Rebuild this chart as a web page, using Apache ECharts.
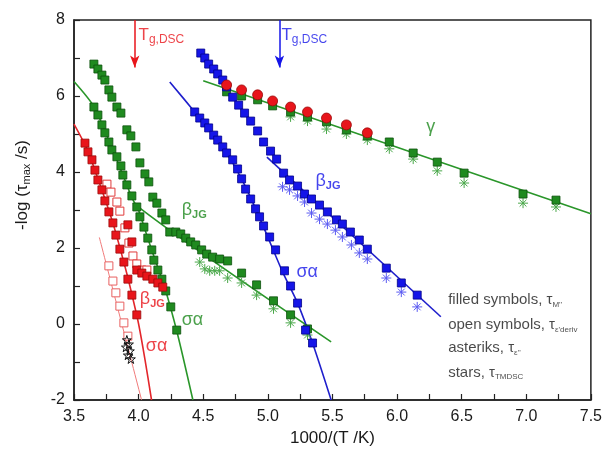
<!DOCTYPE html>
<html lang="en">
<head>
  <meta charset="UTF-8" />
  <title>relaxation map</title>
  <script src="https://cdn.jsdelivr.net/npm/echarts@6/dist/echarts.min.js"></script>
  <style>
    html, body { margin: 0; padding: 0; background: #fff; }
  </style>
</head>
<body>
  <div id="main" style="width:605px;height:455px;"></div>
  <script type="text/javascript">
    // --- data: [1000/T, -log(tau)] ---
    // red: filled squares (sigma-alpha and beta_JG), open squares, stars
    var redSigmaSq = [[3.585, 4.76], [3.608, 4.53], [3.639, 4.32], [3.662, 4.05], [3.685, 3.79], [3.716, 3.53],
      [3.739, 3.24], [3.770, 2.95], [3.801, 2.66], [3.824, 2.34], [3.855, 1.97], [3.886, 1.63], [3.917, 1.18],
      [3.948, 0.76], [3.986, 0.24]]
    var redBetaSq = [[3.917, 2.61], [3.948, 2.16], [3.986, 1.42], [4.025, 1.34], [4.064, 1.26], [4.110, 1.18],
      [4.149, 1.08], [4.187, 0.97]]
    var redOpenSq = [[3.755, 3.68], [3.786, 3.47], [3.832, 3.21], [3.855, 2.97], [3.894, 2.53], [3.925, 2.13],
      [3.956, 1.79], [3.986, 1.58], [4.025, 1.42], [4.064, 1.42]]
    var redOpenSigma = [[3.770, 1.53], [3.801, 1.13], [3.824, 0.82], [3.855, 0.47], [3.886, 0.03], [3.917, -0.32]]
    var stars = [[3.909, -0.42], [3.925, -0.53], [3.902, -0.61], [3.932, -0.71], [3.917, -0.82], [3.940, -0.92]]
    var redGammaCircles = [[4.681, 6.29], [4.797, 6.16], [4.921, 6.03], [5.037, 5.87], [5.176, 5.71], [5.307, 5.58],
      [5.454, 5.42], [5.608, 5.24], [5.770, 5.03]]

    // green
    var greenUpperSq = [[3.654, 6.84], [3.685, 6.71], [3.716, 6.55], [3.739, 6.42], [3.770, 6.16], [3.793, 5.97],
      [3.832, 5.71], [3.863, 5.55], [3.909, 5.11], [3.940, 4.95], [3.979, 4.66], [4.010, 4.24], [4.049, 3.95],
      [4.079, 3.74], [4.110, 3.34], [4.141, 3.18], [4.180, 2.92], [4.210, 2.74], [4.241, 2.42], [4.288, 2.42],
      [4.326, 2.37], [4.365, 2.26], [4.403, 2.16], [4.442, 2.08], [4.488, 1.95], [4.527, 1.84], [4.573, 1.76],
      [4.627, 1.71], [4.689, 1.66], [4.797, 1.34], [4.913, 1.03], [5.044, 0.61], [5.176, 0.24], [5.307, -0.13]]
    var greenLowerSq = [[3.654, 5.71], [3.685, 5.50], [3.716, 5.24], [3.739, 5.03], [3.770, 4.79], [3.793, 4.58],
      [3.832, 4.40], [3.863, 4.16], [3.878, 3.92], [3.909, 3.66], [3.948, 3.37], [3.986, 3.08], [4.010, 2.82],
      [4.041, 2.55], [4.071, 2.26], [4.102, 1.95], [4.118, 1.68], [4.149, 1.42], [4.180, 1.18], [4.210, 0.87],
      [4.249, 0.45], [4.295, -0.16]]
    var greenGammaSq = [[4.681, 6.11], [4.797, 6.00], [4.921, 5.90], [5.037, 5.74], [5.176, 5.58], [5.307, 5.45],
      [5.454, 5.32], [5.608, 5.11], [5.770, 4.95], [5.940, 4.79], [6.125, 4.50], [6.311, 4.26], [6.519, 3.97],
      [6.975, 3.42], [7.230, 3.26]]
    var greenGammaAst = [[5.176, 5.45], [5.307, 5.34], [5.454, 5.13], [5.608, 5.00], [5.770, 4.84], [5.940, 4.61],
      [6.125, 4.34], [6.311, 4.03], [6.519, 3.71], [6.975, 3.18], [7.230, 3.08]]
    var greenBetaAst = [[4.473, 1.63], [4.512, 1.45], [4.550, 1.40], [4.589, 1.40], [4.627, 1.40], [4.689, 1.21],
      [4.797, 1.08], [4.913, 0.76], [5.044, 0.40], [5.176, 0.03], [5.307, -0.29]]

    // blue
    var blueBetaSq = [[4.481, 7.13], [4.512, 7.00], [4.542, 6.84], [4.581, 6.71], [4.612, 6.58], [4.651, 6.42],
      [4.681, 6.24], [4.728, 5.97], [4.774, 5.76], [4.820, 5.55], [4.867, 5.34], [4.921, 5.08], [4.967, 4.79],
      [5.021, 4.55], [5.068, 4.34], [5.122, 3.97], [5.168, 3.79], [5.230, 3.63], [5.284, 3.42], [5.338, 3.29],
      [5.400, 3.13], [5.461, 2.95], [5.531, 2.74], [5.577, 2.63], [5.639, 2.42], [5.708, 2.21], [5.770, 1.97],
      [5.917, 1.47], [6.033, 1.08], [6.156, 0.76]]
    var blueBetaAst = [[5.114, 3.61], [5.168, 3.53], [5.230, 3.37], [5.284, 3.21], [5.338, 2.92], [5.400, 2.76],
      [5.461, 2.63], [5.523, 2.47], [5.577, 2.29], [5.647, 2.08], [5.708, 1.87], [5.770, 1.71], [5.917, 1.21],
      [6.033, 0.84], [6.156, 0.45]]
    var blueSigmaSq = [[4.434, 5.58], [4.473, 5.42], [4.512, 5.29], [4.542, 5.16], [4.581, 4.97], [4.612, 4.84],
      [4.651, 4.66], [4.681, 4.50], [4.728, 4.32], [4.766, 4.08], [4.797, 3.82], [4.828, 3.55], [4.867, 3.29],
      [4.905, 3.03], [4.936, 2.82], [4.967, 2.58], [5.014, 2.29], [5.060, 1.95], [5.129, 1.40], [5.176, 1.00],
      [5.230, 0.55], [5.292, -0.16], [5.346, -0.50]]

    // fit curves
    var redFit = [[3.5, 5.26], [3.6, 4.61], [3.7, 3.68], [3.8, 2.67], [3.9, 1.44], [3.95, 0.75], [4.0, 0.0],
      [4.05, -0.95], [4.1, -2.0]]
    var redOpenFit = [[3.696, 2.28], [4.023, -2.0]]
    var greenFit = [[3.5, 6.38], [3.654, 5.72], [3.8, 4.58], [3.9, 3.74], [3.99, 3.10], [5.49, -0.47]]
    var greenSigmaFit = [[3.99, 3.10], [4.1, 1.96], [4.2, 0.98], [4.3, -0.25], [4.42, -2.0]]
    var greenGammaFit = [[4.5, 6.40], [7.5, 2.90]]
    var blueBetaFit = [[4.993, 4.39], [6.339, 0.19]]
    var blueSigmaFit = [[4.241, 6.37], [4.434, 5.58], [4.651, 4.66], [4.820, 3.66], [4.967, 2.55], [5.114, 1.37],
      [5.230, 0.55], [5.346, -0.50], [5.490, -2.0]]

    // T_g,DSC arrows
    var tgRed = 3.97
    var tgBlue = 5.09

    var RED = '#e8151b', RED_EDGE = '#9a0a0a'
    var GREEN = '#1f8a1f', GREEN_EDGE = '#0c520c'
    var BLUE = '#1515e8', BLUE_EDGE = '#00008a'

    var ASTER = 'path://M0,5L10,5M5,0L5,10M1.6,1.6L8.4,8.4M8.4,1.6L1.6,8.4'
    var STAR = 'path://M5,0L6.2,3.6L10,3.6L6.9,5.9L8.1,9.5L5,7.3L1.9,9.5L3.1,5.9L0,3.6L3.8,3.6Z'

    var myChart = echarts.init(document.getElementById('main'))

    function fit(data, color, width) {
      return {
        type: 'line', data: data, showSymbol: false, symbol: 'none', smooth: 0.25,
        lineStyle: { color: color, width: width }, silent: true, z: 1
      }
    }
    function squares(data, fill, edge, bw) {
      return {
        type: 'scatter', data: data, symbol: 'rect', symbolSize: 8, silent: true, z: 3,
        itemStyle: { color: fill, borderColor: edge, borderWidth: bw || 0.8, opacity: 1 }
      }
    }
    function asterisks(data, color) {
      return {
        type: 'scatter', data: data, symbol: ASTER, symbolSize: 10, silent: true, z: 2,
        itemStyle: { color: 'rgba(0,0,0,0)', borderColor: color, borderWidth: 1, opacity: 1 }
      }
    }
    function arrow(x, color) {
      return {
        type: 'scatter', data: [], silent: true,
        markLine: {
          silent: true, symbol: ['none', 'arrow'], symbolSize: [7, 12],
          label: { show: false },
          lineStyle: { color: color, width: 1.5, type: 'solid' },
          data: [[{ coord: [x, 8] }, { coord: [x, 6.75] }]]
        }
      }
    }

    // text annotations, anchored left-middle at data coordinates
    var rich = {
      b: { fontSize: 18 },
      s: { fontSize: 11, fontWeight: 'bold', padding: [10, 0, 0, 0] },
      t: { fontSize: 17 },
      ts: { fontSize: 12, padding: [10, 0, 0, 0] },
      l: { fontSize: 15 },
      ls: { fontSize: 8, padding: [9, 0, 0, 0] }
    }
    var notes = [
      { value: [4.0, 7.6], label: { formatter: '{t|T}{ts|g,DSC}', color: RED } },
      { value: [5.106, 7.6], label: { formatter: '{t|T}{ts|g,DSC}', color: BLUE } },
      { value: [6.226, 5.18], label: { formatter: '{b|γ}', color: GREEN } },
      { value: [5.369, 3.76], label: { formatter: '{b|β}{s|JG}', color: BLUE } },
      { value: [5.222, 1.37], label: { formatter: '{b|σα}', color: BLUE } },
      { value: [4.334, 3.0], label: { formatter: '{b|β}{s|JG}', color: GREEN } },
      { value: [4.334, 0.1], label: { formatter: '{b|σα}', color: GREEN } },
      { value: [4.01, 0.66], label: { formatter: '{b|β}{s|JG}', color: RED } },
      { value: [4.056, -0.58], label: { formatter: '{b|σα}', color: RED } },
      { value: [6.396, 0.63], label: { formatter: "{l|filled symbols, τ}{ls|M''}", color: '#1a1a1a' } },
      { value: [6.396, -0.03], label: { formatter: "{l|open symbols, τ}{ls|ε'deriv}", color: '#1a1a1a' } },
      { value: [6.396, -0.64], label: { formatter: "{l|asteriks, τ}{ls|ε''}", color: '#1a1a1a' } },
      { value: [6.396, -1.28], label: { formatter: '{l|stars, τ}{ls|TMDSC}', color: '#1a1a1a' } }
    ]

    var tickStyle = { color: '#222', width: 1.2 }

    var option = {
      animation: false,
      backgroundColor: '#fff',
      textStyle: { fontFamily: 'Liberation Sans, Arial, sans-serif' },
      grid: { left: 74, right: 13, top: 20, bottom: 55, show: true, borderColor: '#222', borderWidth: 1.5 },
      xAxis: {
        // ticks every 0.25, labels only on the half units
        type: 'value', min: 3.5, max: 7.5, interval: 0.25,
        name: '1000/(T /K)', nameLocation: 'middle', nameGap: 28,
        nameTextStyle: { fontSize: 17, color: '#1a1a1a' },
        axisLine: { show: true, onZero: false, lineStyle: { color: '#222', width: 1.5 } },
        axisTick: { show: true, inside: true, length: 6, lineStyle: tickStyle },
        axisLabel: {
          fontSize: 16, color: '#1a1a1a', margin: 9, showMinLabel: true, showMaxLabel: true,
          formatter: function (v) { return Math.abs(v * 2 - Math.round(v * 2)) < 1e-6 ? v.toFixed(1) : '' }
        },
        splitLine: { show: false }
      },
      yAxis: {
        type: 'value', min: -2, max: 8, interval: 1,
        name: '-log (τ{sub|max} /s)', nameLocation: 'middle', nameGap: 42, nameRotate: 90,
        nameTextStyle: {
          fontSize: 17, color: '#1a1a1a', padding: [0, 0, 0, 50],
          rich: { sub: { fontSize: 11, padding: [9, 0, 0, 0] } }
        },
        axisLine: { show: true, onZero: false, lineStyle: { color: '#222', width: 1.5 } },
        axisTick: { show: true, inside: true, length: 6, lineStyle: tickStyle },
        axisLabel: {
          fontSize: 16, color: '#1a1a1a', margin: 9,
          formatter: function (v) { return Math.round(v) % 2 === 0 ? String(v) : '' }
        },
        splitLine: { show: false }
      },
      series: [
        fit(redOpenFit, '#f07a7a', 1),
        fit(redFit, '#e3262b', 1.6),
        fit(greenFit, '#2a962a', 1.6),
        fit(greenSigmaFit, '#2a962a', 1.6),
        fit(greenGammaFit, '#2a962a', 1.6),
        fit(blueBetaFit, '#1f1fcc', 1.6),
        fit(blueSigmaFit, '#1f1fcc', 1.6),
        arrow(tgRed, RED),
        arrow(tgBlue, BLUE),
        asterisks(greenGammaAst, '#4aa84a'),
        asterisks(greenBetaAst, '#4aa84a'),
        asterisks(blueBetaAst, '#5a5af2'),
        squares(redOpenSq, '#ffffff', '#e03a3a', 1),
        squares(redOpenSigma, '#ffffff', '#e86060', 1),
        {
          type: 'scatter', data: stars, symbol: STAR, symbolSize: 9, silent: true, z: 3,
          itemStyle: { color: 'rgba(0,0,0,0)', borderColor: '#111', borderWidth: 1, opacity: 1 }
        },
        squares(greenUpperSq, GREEN, GREEN_EDGE),
        squares(greenLowerSq, GREEN, GREEN_EDGE),
        squares(greenGammaSq, GREEN, GREEN_EDGE),
        squares(redSigmaSq, RED, RED_EDGE),
        squares(redBetaSq, RED, RED_EDGE),
        squares(blueBetaSq, BLUE, BLUE_EDGE),
        squares(blueSigmaSq, BLUE, BLUE_EDGE),
        {
          type: 'scatter', data: redGammaCircles, symbol: 'circle', symbolSize: 10, silent: true, z: 4,
          itemStyle: { color: RED, borderColor: RED_EDGE, borderWidth: 0.8, opacity: 1 }
        },
        {
          type: 'scatter', data: notes, symbolSize: 0.1, silent: true, z: 5,
          itemStyle: { color: 'rgba(0,0,0,0)' },
          label: { show: true, position: [0, 0], align: 'left', verticalAlign: 'middle', rich: rich }
        }
      ]
    }

    myChart.setOption(option)
  </script>
</body>
</html>
